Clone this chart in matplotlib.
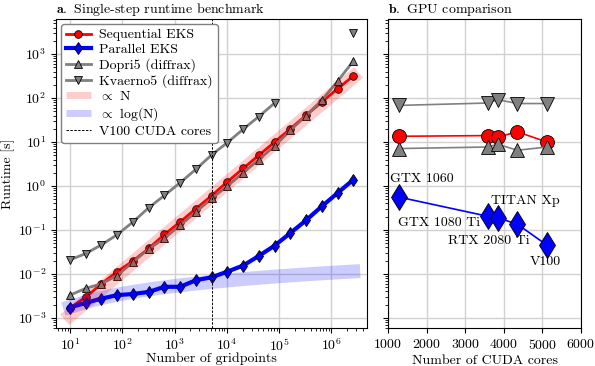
import numpy as np
import matplotlib
matplotlib.use("Agg")
import matplotlib.pyplot as plt
from matplotlib.lines import Line2D

plt.rcParams.update({
    "font.family": "serif",
    "font.serif": ["cmr10"],
    "mathtext.fontset": "cm",
    "axes.formatter.use_mathtext": True,
    "font.size": 10,
})

# ---------------- data: panel a ----------------
gridpoints = [10, 20, 40, 80, 160, 320, 640, 1280, 2560, 5120, 10240, 20480,
              40960, 81920, 163840, 327680, 655360, 1310720, 2621440]
seq_eks = [1.7e-3, 2.95e-3, 6.0e-3, 1.13e-2, 1.97e-2, 3.8e-2, 7.9e-2, 0.152,
           0.305, 0.60, 1.25, 2.5, 5.0, 10.0, 20.0, 40.5, 81.0, 163.0, 316.0]
par_eks = [1.72e-3, 2.2e-3, 2.75e-3, 3.3e-3, 3.5e-3, 3.9e-3, 5.1e-3, 5.1e-3,
           7.2e-3, 8.4e-3, 1.13e-2, 1.55e-2, 2.57e-2, 4.4e-2, 8.5e-2, 0.166,
           0.345, 0.69, 1.39]
dopri5 = [3.3e-3, 4.7e-3, 6.0e-3, 9.2e-3, 1.87e-2, 3.7e-2, 6.5e-2, 0.128,
          0.257, 0.52, 1.0, 2.0, 4.0, 8.1, 18.4, 40.0, 89.0, 240.0, 692.0]
kvaerno5 = [2.1e-2, 2.9e-2, 4.6e-2, 7.8e-2, 0.152, 0.32, 0.61, 1.19, 2.4,
            5.1, 9.7, 19.5, 38.0, 77.0, np.nan, np.nan, np.nan, np.nan, 3080.0]
scale_linear = 1.15e-4     # runtime ~ scale_linear * N
scale_log = 7.7e-4         # runtime ~ scale_log * ln(N)
v100_cores = 5120

# ---------------- data: panel b ----------------
gpu_names = ["GTX 1060", "GTX 1080 Ti", "TITAN Xp", "RTX 2080 Ti", "V100"]
cuda_cores = [1280, 3584, 3840, 4352, 5120]
gpu_seq = [13.5, 14.0, 13.0, 17.0, 10.0]
gpu_par = [0.56, 0.205, 0.19, 0.135, 0.045]
gpu_dopri5 = [7.1, 7.7, 8.9, 6.5, 7.7]
gpu_kvaerno5 = [68.0, 77.0, 92.0, 75.0, 75.0]
label_pos = [(1044, 1.42), (1252, 0.144), (3660, 0.457), (2551, 0.056), (4681, 0.0188)]

fig = plt.figure(figsize=(5.95, 3.66), dpi=100)
axa = fig.add_axes([56/595, 1-328/366, (367-56)/595, (328-19)/366])
axb = fig.add_axes([388/595, 1-328/366, (581-388)/595, (328-19)/366], sharey=axa)

N = np.array(gridpoints, dtype=float)
gray = "#808080"

h1, = axa.plot(N, seq_eks, "-o", color="red", lw=2, ms=5.5, mfc="red", mec="black",
               mew=0.6, label="Sequential EKS")
h2, = axa.plot(N, par_eks, "-d", color="blue", lw=3, ms=6.5, mfc="blue", mec="black",
               mew=0.6, label="Parallel EKS")
h3, = axa.plot(N, dopri5, "-^", color=gray, lw=2, ms=5.5, mfc=gray, mec="black",
               mew=0.6, label="Dopri5 (diffrax)")
h4, = axa.plot(N, kvaerno5, "-v", color=gray, lw=2, ms=5.5, mfc=gray, mec="black",
               mew=0.6, label="Kvaerno5 (diffrax)")
axa.plot(N, scale_linear * N, "-", color="red", alpha=0.2, lw=10)
axa.plot(N, scale_log * np.log(N), "-", color="blue", alpha=0.2, lw=10)
h7 = axa.axvline(v100_cores, color="black", ls=(0, (2.5, 1.5)), lw=0.7,
                 label="V100 CUDA cores")
h5 = Line2D([], [], color="red", alpha=0.2, lw=5, solid_capstyle="butt")
h6 = Line2D([], [], color="blue", alpha=0.2, lw=5, solid_capstyle="butt")

axa.set_xscale("log")
axa.set_yscale("log")
axa.set_xlim(5.4, 4.8e6)
axa.set_ylim(5.9e-4, 6.27e3)
axa.grid(True, which="major", color="0.82", lw=1)
axa.set_axisbelow(True)
axa.set_xlabel("Number of gridpoints", labelpad=-1)
axa.set_ylabel("Runtime [s]", labelpad=2)
axa.set_title(r"$\mathbf{a.}$ Single-step runtime benchmark", loc="left",
              fontsize=10, pad=4)
axa.set_yticks([1e-3, 1e-2, 1e-1, 1e0, 1e1, 1e2, 1e3])
axa.set_xticks([1e1, 1e2, 1e3, 1e4, 1e5, 1e6])
axa.legend([h1, h2, h3, h4, h5, h6, h7],
           ["Sequential EKS", "Parallel EKS", "Dopri5 (diffrax)",
            "Kvaerno5 (diffrax)", r"$\propto$ N", r"$\propto$ log(N)",
            "V100 CUDA cores"],
           loc="upper left", fontsize=10, handlelength=1.8,
           handletextpad=0.6, labelspacing=0.15, borderpad=0.35,
           borderaxespad=0.35, framealpha=1, edgecolor="0.5", fancybox=True)

axb.plot(cuda_cores, gpu_seq, "-o", color="red", lw=1.2, ms=10, mfc="red",
         mec="black", mew=0.6)
axb.plot(cuda_cores, gpu_par, "-d", color="blue", lw=1.2, ms=13, mfc="blue",
         mec="black", mew=0.6)
axb.plot(cuda_cores, gpu_dopri5, "-^", color=gray, lw=1.2, ms=10, mfc=gray,
         mec="black", mew=0.6)
axb.plot(cuda_cores, gpu_kvaerno5, "-v", color=gray, lw=1.2, ms=10, mfc=gray,
         mec="black", mew=0.6)
for name, (tx, ty) in zip(gpu_names, label_pos):
    axb.text(tx, ty, name, ha="left", va="center", fontsize=10)
axb.set_xlim(1000, 6000)
axb.set_xticks([1000, 2000, 3000, 4000, 5000, 6000])
axb.grid(True, which="major", color="0.82", lw=1)
axb.set_axisbelow(True)
axb.tick_params(axis="y", which="both", labelleft=False)
axb.set_xlabel("Number of CUDA cores", labelpad=2)
axb.set_title(r"$\mathbf{b.}$ GPU comparison", loc="left", fontsize=10, pad=4)

fig.savefig("out.png", dpi=100)
